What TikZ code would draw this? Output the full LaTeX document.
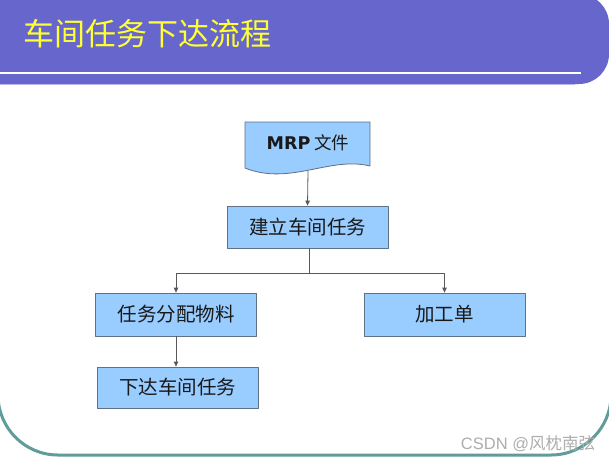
\documentclass[tikz,border=0pt]{standalone}
\usepackage{fontspec}
\setmainfont{Liberation Sans}
\newfontfamily\cjkfont{Noto Sans CJK SC}
\newfontfamily\mrpfont{DejaVu Sans}
\usetikzlibrary{positioning,arrows.meta}
\definecolor{band}{HTML}{6666CC}
\definecolor{boxfill}{HTML}{99CCFF}
\definecolor{boxline}{HTML}{5E7185}
\definecolor{frameline}{HTML}{609C9A}
\definecolor{titlefg}{HTML}{FFFF33}
\tikzset{
  taskbox/.style={rectangle,draw=boxline,fill=boxfill,line width=0.8pt,minimum width=161pt,minimum height=42pt,inner sep=0pt,font=\cjkfont\fontsize{19.5}{19.5}\selectfont,text=black!90},
  link/.style={draw=black!65,line width=0.8pt},
  flow/.style={link,-{Triangle[length=5pt,width=4.5pt]}},
}

\begin{document}
\begin{tikzpicture}[x=1pt,y=-1pt,line join=round]
  \useasboundingbox (0,0) rectangle (609,469);
  \clip (0,0) rectangle (609,469);
  \fill[white] (0,0) rectangle (609,469);
  \fill[band,rounded corners=30pt] (-30,-6) rectangle (609,84);
  \draw[band!45,line width=0.8pt] (0,84.5) -- (575,84.5);
  \draw[white,line width=2pt] (0,73) -- (581,73);
  \node[anchor=west,font=\cjkfont\fontsize{31}{31}\selectfont,text=titlefg] (title) at (20,34) {车间任务下达流程};
  \draw[frameline,line width=3pt,rounded corners=60pt] (-2,250) -- (-2,455) -- (611,455) -- (611,250);
  \filldraw[fill=boxfill,draw=boxline,line width=0.8pt] (245,122) -- (370,122) -- (370,166) .. controls (330,156) and (290,186) .. (245,168) -- cycle;
  \node[font=\cjkfont\fontsize{17.5}{17.5}\selectfont,text=black!90,inner sep=0pt] (mrp) at (308,143) {{\mrpfont\bfseries MRP} 文件};
  \coordinate (mrpfoot) at (308,171);
  \node[taskbox] (setup) at (307.5,227) {建立车间任务};
  \node[taskbox,minimum height=43pt] (alloc) at (176,314.5) {任务分配物料};
  \node[taskbox,minimum height=43pt] (order) at (444.5,314.5) {加工单};
  \node[taskbox,minimum height=41pt] (issue) at (177.5,387.5) {下达车间任务};
  \coordinate (split) at (309,273);
  \draw[flow] (mrpfoot) -- (setup.north);
  \draw[link] (setup.south -| split) -- (split);
  \draw[flow] (split) -| (alloc.north);
  \draw[flow] (split) -| (order.north);
  \draw[flow] (alloc.south) -- (alloc.south |- issue.north);
  \node[font=\fontsize{16.5}{16.5}\selectfont,text=black!32,inner sep=0pt] (mark) at (528,444) {CSDN @{\cjkfont 风枕南弦}};
\end{tikzpicture}
\end{document}
